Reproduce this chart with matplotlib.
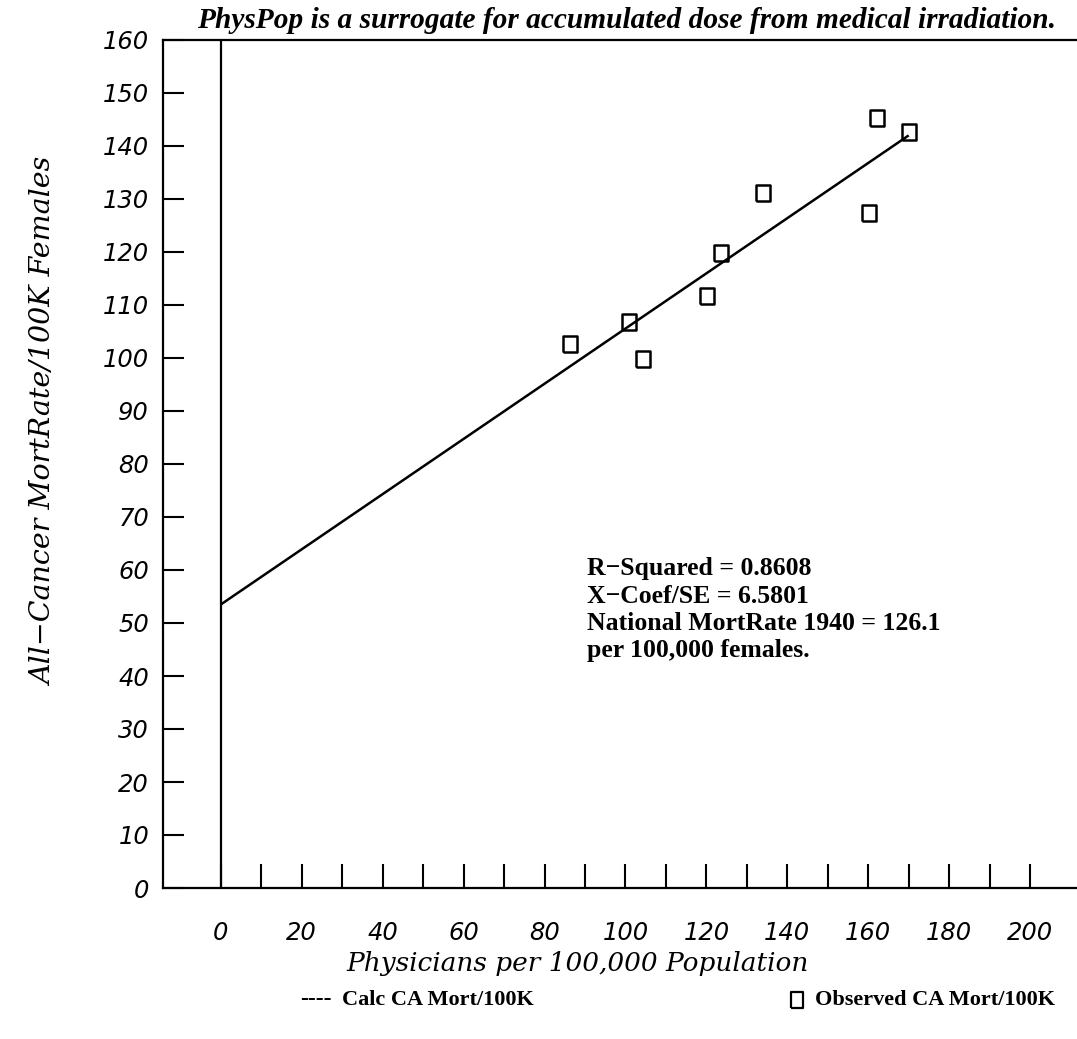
import matplotlib
matplotlib.use("Agg")
import matplotlib.pyplot as plt

# ---- data ----
phys_pop = [86.3, 100.9, 104.3, 120.2, 123.5, 133.9, 160.2, 162.2, 170.0]
observed_mort = [102.6, 106.8, 99.8, 111.7, 119.9, 131.2, 127.4, 145.3, 142.7]
fit_x = [0.0, 170.0]
fit_y = [53.5, 142.0]
x_tick_values = list(range(0, 201, 20))
x_minor_ticks = list(range(10, 201, 20))
y_tick_values = list(range(0, 161, 10))
stats_lines = ["R\u2212Squared = 0.8608", "X\u2212Coef/SE = 6.5801",
               "National MortRate 1940 = 126.1", "per 100,000 females."]
title_text = "PhysPop is a surrogate for accumulated dose from medical irradiation."
x_label = "Physicians per 100,000 Population"
y_label = "All\u2212Cancer MortRate/100K Females"
legend_line_label = "Calc CA Mort/100K"
legend_marker_label = "Observed CA Mort/100K"

W, H = 1077, 1039
fig = plt.figure(figsize=(W / 100, H / 100), dpi=100)
ax = fig.add_axes([163 / W, 1 - 888 / H, 1 - 163 / W, (888 - 40) / H])
ax.set_xlim(-14.3, 211.6)
ax.set_ylim(0, 160)

rect_marker = [(-0.4, -0.5), (0.4, -0.5), (0.4, 0.5), (-0.4, 0.5), (-0.4, -0.5)]
ax.plot(fit_x, fit_y, color="black", lw=1.8, solid_capstyle="butt")
ax.plot(phys_pop, observed_mort, linestyle="none", marker=rect_marker, ms=12,
        mfc="none", mec="black", mew=1.8)
ax.axvline(0, color="black", lw=1.6)

for s in ["left", "top", "bottom"]:
    ax.spines[s].set_linewidth(1.6)
ax.spines["right"].set_visible(False)

ax.set_xticks(x_tick_values)
ax.set_xticklabels([str(v) for v in x_tick_values])
ax.set_xticks(x_minor_ticks, minor=True)
ax.set_yticks(y_tick_values)
ax.set_yticklabels([str(v) for v in y_tick_values])
ax.tick_params(axis="x", which="both", direction="in", length=17, width=1.5,
               top=False, pad=24)
ax.tick_params(axis="y", which="both", direction="in", length=15, width=1.5,
               right=False, pad=10)
for lab in ax.get_xticklabels() + ax.get_yticklabels():
    lab.set_fontfamily("DejaVu Sans")
    lab.set_fontstyle("italic")
    lab.set_fontsize(17.5)

for i, line in enumerate(stats_lines):
    fig.text(587 / W, 1 - (569 + 27.3 * i) / H, line, fontfamily="Liberation Serif",
             fontweight="bold", fontsize=18.5, va="center", ha="left")

fig.text(197 / W, 1 - 20 / H, title_text, fontfamily="Liberation Serif",
         fontweight="bold", fontstyle="italic", fontsize=21.2, ha="left", va="center")

fig.text(578 / W, 1 - 963 / H, x_label, fontfamily="DejaVu Serif",
         fontstyle="italic", fontsize=19, ha="center", va="center")
fig.text(45 / W, 1 - 422 / H, y_label, fontfamily="DejaVu Serif",
         fontstyle="italic", fontsize=20.5, ha="center", va="center", rotation=90)

# legend row
ly = 1 - 1000 / H
fig.text(300 / W, ly, "----", fontfamily="Liberation Serif",
         fontweight="bold", fontsize=17, ha="left", va="center")
fig.text(342 / W, ly, legend_line_label, fontfamily="Liberation Serif",
         fontweight="bold", fontsize=16, ha="left", va="center")
fig.lines.append(plt.Line2D([797 / W], [ly], transform=fig.transFigure,
                            marker=rect_marker, ms=11, mfc="none", mec="black", mew=1.6,
                            linestyle="none"))
fig.text(815 / W, ly, legend_marker_label, fontfamily="Liberation Serif",
         fontweight="bold", fontsize=16, ha="left", va="center")

fig.savefig("out.png", dpi=100)
